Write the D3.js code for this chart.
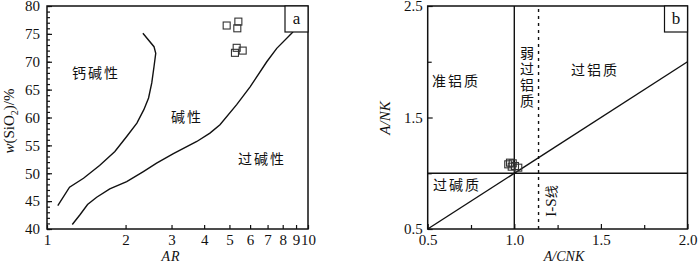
<!DOCTYPE html>
<html>
<head>
<meta charset="utf-8">
<script src="https://cdn.jsdelivr.net/npm/d3@7"></script>
<style>
  html, body { margin: 0; padding: 0; background: #fff; }
  svg { display: block; }
  .tick text { font-family: "Liberation Serif", "DejaVu Serif", serif; font-size: 15px; fill: #111; }
  .cn { font-family: "Noto Sans CJK SC", sans-serif; font-size: 14px; fill: #111; letter-spacing: 2px; }
</style>
</head>
<body>
<svg id="chart" width="700" height="263"></svg>
<script>
// ---------- Panel a: AR vs SiO2 ----------
const arTicks = [1, 2, 3, 4, 5, 6, 7, 8, 9, 10];
const siTicks = [40, 45, 50, 55, 60, 65, 70, 75, 80];
const siMinor = d3.range(40, 81, 1);

// calc-alkaline / alkaline boundary [AR, SiO2]
const calcAlkBoundary = [
  [1.10, 44.2], [1.22, 47.5], [1.38, 49.1], [1.59, 51.4], [1.82, 53.9],
  [2.02, 56.6], [2.21, 59.0], [2.35, 61.4], [2.45, 63.5], [2.52, 66.2],
  [2.57, 69.1], [2.61, 71.5], [2.57, 72.7], [2.33, 75.1]
];
// alkaline / peralkaline boundary [AR, SiO2]
const alkPeralkBoundary = [
  [1.25, 40.8], [1.34, 42.6], [1.43, 44.4], [1.55, 45.7], [1.74, 47.2],
  [2.02, 48.5], [2.34, 50.3], [2.63, 51.8], [3.05, 53.5], [3.75, 55.7],
  [4.21, 57.2], [4.60, 58.7], [5.33, 62.3], [6.00, 65.5], [6.95, 70.0],
  [7.59, 72.4], [8.66, 75.1], [8.80, 75.5]
];
// samples [AR, SiO2]
const samplesA = [
  [4.88, 76.5], [5.41, 77.2], [5.36, 76.0],
  [5.33, 72.5], [5.25, 71.6], [5.62, 72.0]
];

// ---------- Panel b: A/CNK vs A/NK ----------
const acnkTicks = [0.5, 1.0, 1.5, 2.0];
const acnkMinor = [0.75, 1.25, 1.75];
const anTicks = [0.5, 1.5, 2.5];
const anMinor = [1.0, 2.0];
const isLine = 1.14;
// samples [A/CNK, A/NK]
const samplesB = [
  [0.965, 1.080], [0.991, 1.089], [1.004, 1.065],
  [1.023, 1.050], [0.985, 1.059], [0.975, 1.095]
];

const svg = d3.select("#chart");
const serif = '"Liberation Serif", "DejaVu Serif", serif';

function frame(g, x0, x1, y0, y1, tag) {
  g.append("rect").attr("x", x0).attr("y", y0)
    .attr("width", x1 - x0).attr("height", y1 - y0)
    .attr("fill", "none").attr("stroke", "#111").attr("stroke-width", 1.5);
  // corner label box
  g.append("rect").attr("x", x1 - 23).attr("y", y0)
    .attr("width", 23).attr("height", 26)
    .attr("fill", "#fff").attr("stroke", "#111").attr("stroke-width", 1.2);
  g.append("text").attr("x", x1 - 11.5).attr("y", y0 + 18)
    .attr("text-anchor", "middle").attr("font-family", serif)
    .attr("font-size", 17).attr("fill", "#111").text(tag);
}

function styleAxis(sel) {
  sel.select(".domain").remove();
  sel.selectAll(".tick line").attr("stroke", "#111").attr("stroke-width", 1.2);
}

function squares(g, data, x, y) {
  g.selectAll(null).data(data).enter().append("rect")
    .attr("x", d => x(d[0]) - 3.5).attr("y", d => y(d[1]) - 3.5)
    .attr("width", 7).attr("height", 7)
    .attr("fill", "none").attr("stroke", "#333").attr("stroke-width", 1.1);
}

// ---- panel a ----
{
  const L = 47, R = 308, T = 6, B = 229;
  const x = d3.scaleLog().domain([1, 10]).range([L, R]);
  const y = d3.scaleLinear().domain([40, 80]).range([B, T]);
  const g = svg.append("g");

  g.append("g").attr("transform", `translate(${L},0)`)
    .call(d3.axisLeft(y).tickValues(siMinor).tickSize(-3).tickFormat(""))
    .call(styleAxis);
  g.append("g").attr("transform", `translate(${L},0)`)
    .call(d3.axisLeft(y).tickValues(siTicks).tickSize(-5).tickPadding(7).tickFormat(d3.format("d")))
    .call(styleAxis);
  g.append("g").attr("transform", `translate(0,${B})`)
    .call(d3.axisBottom(x).tickValues(arTicks).tickSize(-4).tickPadding(5).tickFormat(d3.format("d")))
    .call(styleAxis);

  g.append("defs").append("clipPath").attr("id", "clipA")
    .append("rect").attr("x", L).attr("y", T).attr("width", R - L).attr("height", B - T);

  const line = d3.line().x(d => x(d[0])).y(d => y(d[1]));
  [calcAlkBoundary, alkPeralkBoundary].forEach(c => {
    g.append("path").attr("d", line(c)).attr("clip-path", "url(#clipA)")
      .attr("fill", "none").attr("stroke", "#111").attr("stroke-width", 1.4);
  });
  squares(g, samplesA, x, y);

  g.append("text").attr("class", "cn").attr("x", 96).attr("y", 78).attr("text-anchor", "middle").text("钙碱性");
  g.append("text").attr("class", "cn").attr("x", 187).attr("y", 122).attr("text-anchor", "middle").text("碱性");
  g.append("text").attr("class", "cn").attr("x", 262).attr("y", 164).attr("text-anchor", "middle").text("过碱性");

  frame(g, L, R, T, B, "a");

  // axis titles
  const yt = g.append("text").attr("transform", "translate(14,121) rotate(-90)")
    .attr("text-anchor", "middle").attr("font-family", serif).attr("font-size", 15).attr("fill", "#111");
  yt.append("tspan").attr("font-style", "italic").text("w");
  yt.append("tspan").text("(SiO");
  yt.append("tspan").attr("font-size", 10).attr("dy", 4).text("2");
  yt.append("tspan").attr("dy", -4).text(")/%");

  g.append("text").attr("x", 171).attr("y", 261).attr("text-anchor", "middle")
    .attr("font-family", serif).attr("font-size", 14).attr("font-style", "italic")
    .attr("letter-spacing", 1).attr("fill", "#111").text("AR");
}

// ---- panel b ----
{
  const L = 427.7, R = 687.5, T = 6, B = 229;
  const x = d3.scaleLinear().domain([0.5, 2.0]).range([L, R]);
  const y = d3.scaleLinear().domain([0.5, 2.5]).range([B, T]);
  const g = svg.append("g");

  g.append("g").attr("transform", `translate(${L},0)`)
    .call(d3.axisLeft(y).tickValues(anMinor).tickSize(-4).tickFormat(""))
    .call(styleAxis);
  g.append("g").attr("transform", `translate(${L},0)`)
    .call(d3.axisLeft(y).tickValues(anTicks).tickSize(-5).tickPadding(5).tickFormat(d3.format(".1f")))
    .call(styleAxis);
  g.append("g").attr("transform", `translate(0,${B})`)
    .call(d3.axisBottom(x).tickValues(acnkMinor).tickSize(-4).tickFormat(""))
    .call(styleAxis);
  g.append("g").attr("transform", `translate(0,${B})`)
    .call(d3.axisBottom(x).tickValues(acnkTicks).tickSize(-5).tickPadding(5).tickFormat(d3.format(".1f")))
    .call(styleAxis);

  const ln = (x1, y1, x2, y2) => g.append("line")
    .attr("x1", x1).attr("y1", y1).attr("x2", x2).attr("y2", y2)
    .attr("stroke", "#111").attr("stroke-width", 1.4);
  ln(x(1.0), y(0.5), x(1.0), y(2.5));
  ln(x(0.5), y(1.0), x(2.0), y(1.0));
  ln(x(0.5), y(0.5), x(2.0), y(2.0));
  ln(x(isLine), y(0.5), x(isLine), y(2.5)).attr("stroke-dasharray", "3,4");

  squares(g, samplesB, x, y);

  g.append("text").attr("class", "cn").attr("x", 456).attr("y", 86).attr("text-anchor", "middle").text("准铝质");
  g.append("text").attr("class", "cn").attr("x", 595).attr("y", 75).attr("text-anchor", "middle").text("过铝质");
  g.append("text").attr("class", "cn").attr("x", 457).attr("y", 190).attr("text-anchor", "middle").text("过碱质");
  // stacked vertical label in the narrow weakly-peraluminous strip
  g.append("text").attr("class", "cn").attr("x", 527).attr("y", 46)
    .attr("writing-mode", "vertical-rl").style("text-orientation", "upright")
    .attr("letter-spacing", 2.3).text("弱过铝质");

  const ist = g.append("text").attr("transform", "translate(556,201) rotate(-90)")
    .attr("text-anchor", "middle").attr("fill", "#111");
  ist.append("tspan").attr("font-family", serif).attr("font-size", 15).text("I-S");
  ist.append("tspan").attr("font-family", '"Noto Sans CJK SC", sans-serif').attr("font-size", 13).text("线");

  frame(g, L, R, T, B, "b");

  g.append("text").attr("transform", "translate(390,118) rotate(-90)")
    .attr("text-anchor", "middle").attr("font-family", serif).attr("font-size", 15)
    .attr("font-style", "italic").attr("fill", "#111").text("A/NK");
  g.append("text").attr("x", 564).attr("y", 261).attr("text-anchor", "middle")
    .attr("font-family", serif).attr("font-size", 14).attr("font-style", "italic")
    .attr("fill", "#111").text("A/CNK");
}
</script>
</body>
</html>
